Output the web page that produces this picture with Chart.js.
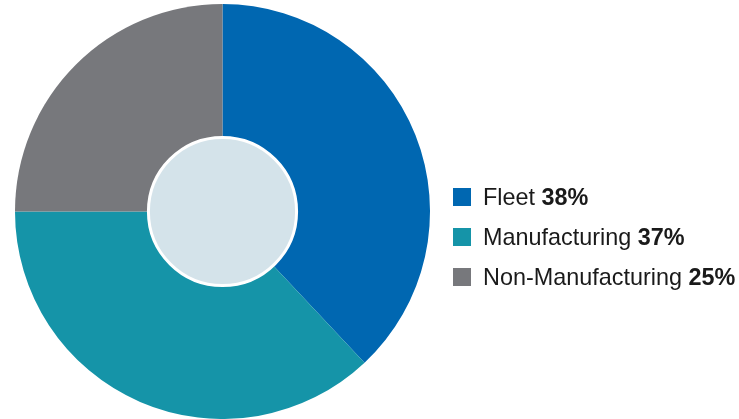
<!DOCTYPE html>
<html>
<head>
<meta charset="utf-8">
<script src="https://cdn.jsdelivr.net/npm/chart.js@4.4.1/dist/chart.umd.min.js"></script>
<style>
  html, body { margin: 0; padding: 0; background: #ffffff; }
  #wrap { position: relative; width: 739px; height: 419px; }
  #legend { position: absolute; left: 453px; top: 0; font-family: "Liberation Sans", Arial, sans-serif; font-size: 23.4px; color: #1a1a1a; }
  .item { position: absolute; left: 0; white-space: nowrap; height: 24px; line-height: 24px; }
  .sw { position: absolute; left: 0; top: 3px; width: 18px; height: 18px; }
  .txt { position: absolute; left: 30px; top: 0; }
  .txt b { font-weight: bold; }
</style>
</head>
<body>
<div id="wrap">
  <canvas id="c" width="739" height="419"></canvas>
  <div id="legend"></div>
</div>
<script>
const categories = ["Fleet", "Manufacturing", "Non-Manufacturing"];
const shares = [38, 37, 25];
const colors = ["#0067b1", "#1594a8", "#77787c"];

const centerDisc = {
  id: 'centerDisc',
  afterDatasetsDraw(chart) {
    const arc = chart.getDatasetMeta(0).data[0];
    if (!arc) return;
    const ctx = chart.ctx;
    const r = arc.outerRadius * 0.357;
    ctx.save();
    ctx.beginPath();
    ctx.arc(arc.x, arc.y, r, 0, Math.PI * 2);
    ctx.fillStyle = "#d4e3ea";
    ctx.fill();
    ctx.lineWidth = 3;
    ctx.strokeStyle = "#ffffff";
    ctx.stroke();
    ctx.restore();
  }
};

new Chart(document.getElementById('c'), {
  type: 'pie',
  data: {
    labels: categories,
    datasets: [{ data: shares, backgroundColor: colors, borderWidth: 0, hoverOffset: 0 }]
  },
  options: {
    responsive: false,
    animation: false,
    layout: { padding: { left: 15, right: 309, top: 4, bottom: 0 } },
    plugins: { legend: { display: false }, tooltip: { enabled: false } }
  },
  plugins: [centerDisc]
});

const legend = document.getElementById('legend');
categories.forEach((name, i) => {
  const item = document.createElement('div');
  item.className = 'item';
  item.style.top = (185 + i * 40) + 'px';
  const sw = document.createElement('div');
  sw.className = 'sw';
  sw.style.background = colors[i];
  const txt = document.createElement('div');
  txt.className = 'txt';
  txt.appendChild(document.createTextNode(name + ' '));
  const b = document.createElement('b');
  b.textContent = shares[i] + '%';
  txt.appendChild(b);
  item.appendChild(sw);
  item.appendChild(txt);
  legend.appendChild(item);
});
</script>
</body>
</html>
